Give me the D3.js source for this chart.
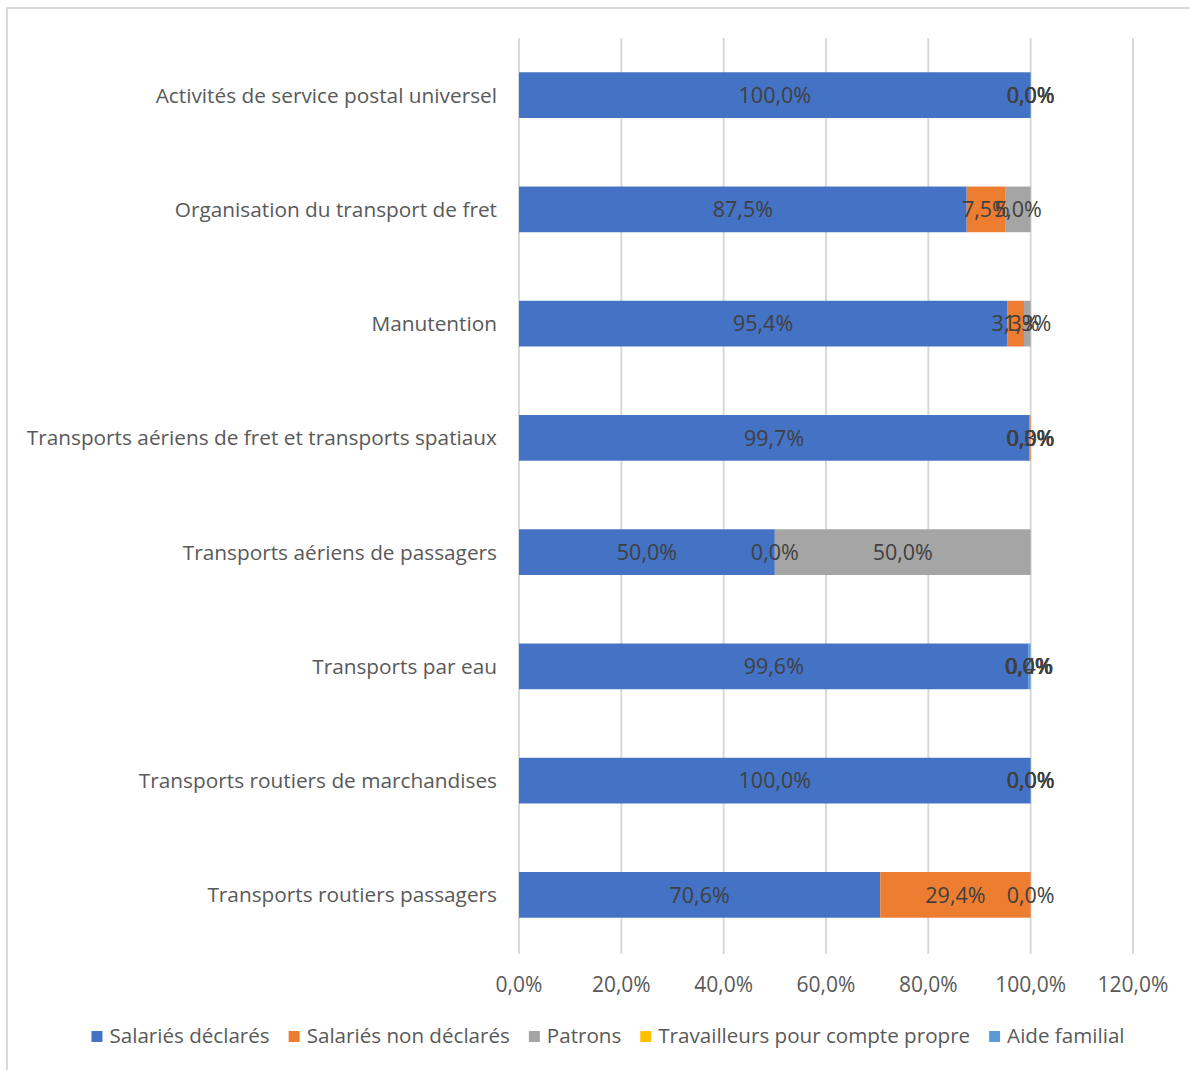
<!DOCTYPE html>
<html><head><meta charset="utf-8">
<script src="https://cdn.jsdelivr.net/npm/d3@7"></script>
<style>
body{margin:0;background:#fff;}
svg{display:block;font-family:"Open Sans",sans-serif;}
</style></head>
<body>
<svg id="c" width="1190" height="1070"></svg>
<script>
const categories = [
  "Activités de service postal universel",
  "Organisation du transport de fret",
  "Manutention",
  "Transports aériens de fret et transports spatiaux",
  "Transports aériens de passagers",
  "Transports par eau",
  "Transports routiers de marchandises",
  "Transports routiers passagers"
];
const seriesNames = ["Salariés déclarés","Salariés non déclarés","Patrons","Travailleurs pour compte propre","Aide familial"];
const seriesColors = ["#4472C4","#ED7D31","#A5A5A5","#FFC000","#5B9BD5"];
const salariesDeclares    = [100.0, 87.5, 95.4, 99.7, 50.0, 99.6, 100.0, 70.6];
const salariesNonDeclares = [0.0,   7.5,  3.3,  0.3,  0.0,  0.0,  0.0,   29.4];
const patrons             = [0.0,   5.0,  1.3,  0.0,  50.0, 0.0,  0.0,   0.0];
const travailleurs        = [0.0,   null, null, 0.0,  null, 0.0,  0.0,   null];
const aideFamilial        = [0.0,   null, null, 0.0,  null, 0.4,  0.0,   null];
const xTicks = [0,20,40,60,80,100,120];

const seriesValues = [salariesDeclares, salariesNonDeclares, patrons, travailleurs, aideFamilial];

const svg = d3.select("#c");
// frame
svg.append("rect").attr("x",7).attr("y",8).attr("width",1200).attr("height",1100)
  .attr("fill","none").attr("stroke","#d9d9d9").attr("stroke-width",2);

const x = d3.scaleLinear().domain([0,120]).range([519,1133]);
const y = d3.scaleBand().domain(categories).range([38,952]).paddingInner(0.6).paddingOuter(0.3);

// gridlines
svg.append("g").selectAll("line").data(xTicks).join("line")
  .attr("x1",d=>x(d)).attr("x2",d=>x(d)).attr("y1",38).attr("y2",954)
  .attr("stroke","#d9d9d9").attr("stroke-width",2);

// stacked bars
const segs = [];
categories.forEach((c,i)=>{
  let acc = 0;
  seriesValues.forEach((arr,s)=>{
    const v = arr[i];
    if (v === null) return;
    segs.push({c, s, v, x0:acc, x1:acc+v});
    acc += v;
  });
});
svg.append("g").selectAll("rect").data(segs).join("rect")
  .attr("x",d=>x(d.x0)).attr("width",d=>x(d.x1)-x(d.x0))
  .attr("y",d=>y(d.c)).attr("height",y.bandwidth())
  .attr("fill",d=>seriesColors[d.s]);

// data labels
const fmt = v => v.toFixed(1).replace(".",",") + "%";
svg.append("g").selectAll("text").data(segs).join("text")
  .attr("x",d=>x((d.x0+d.x1)/2)).attr("y",d=>y(d.c)+y.bandwidth()/2)
  .attr("dy","0.36em").attr("text-anchor","middle")
  .attr("font-size",21.5).attr("fill","#404040")
  .text(d=>fmt(d.v));

// category labels
svg.append("g").selectAll("text").data(categories).join("text")
  .attr("x",497).attr("y",d=>y(d)+y.bandwidth()/2).attr("dy","0.36em")
  .attr("text-anchor","end").attr("font-size",20.8).attr("fill","#595959")
  .text(d=>d);

// x axis tick labels
svg.append("g").selectAll("text").data(xTicks).join("text")
  .attr("x",d=>x(d)).attr("y",984).attr("dy","0.36em")
  .attr("text-anchor","middle").attr("font-size",21).attr("fill","#595959")
  .text(d=>d.toFixed(1).replace(".",",")+"%");

// legend
const lg = svg.append("g");
const items = lg.selectAll("g").data(seriesNames).join("g");
items.append("rect").attr("width",11).attr("height",11).attr("y",-5)
  .attr("fill",(d,i)=>seriesColors[i]);
items.append("text").attr("x",18).attr("dy","0.36em").attr("font-size",20.6)
  .attr("fill","#595959").text(d=>d);
let widths = [];
items.each(function(){ widths.push(18 + d3.select(this).select("text").node().getComputedTextLength()); });
const gap = 19;
const total = d3.sum(widths) + gap*(widths.length-1);
let cx = 608 - total/2;
items.attr("transform",(d,i)=>{ const t = `translate(${cx},1036)`; cx += widths[i]+gap; return t; });
</script>
</body></html>
